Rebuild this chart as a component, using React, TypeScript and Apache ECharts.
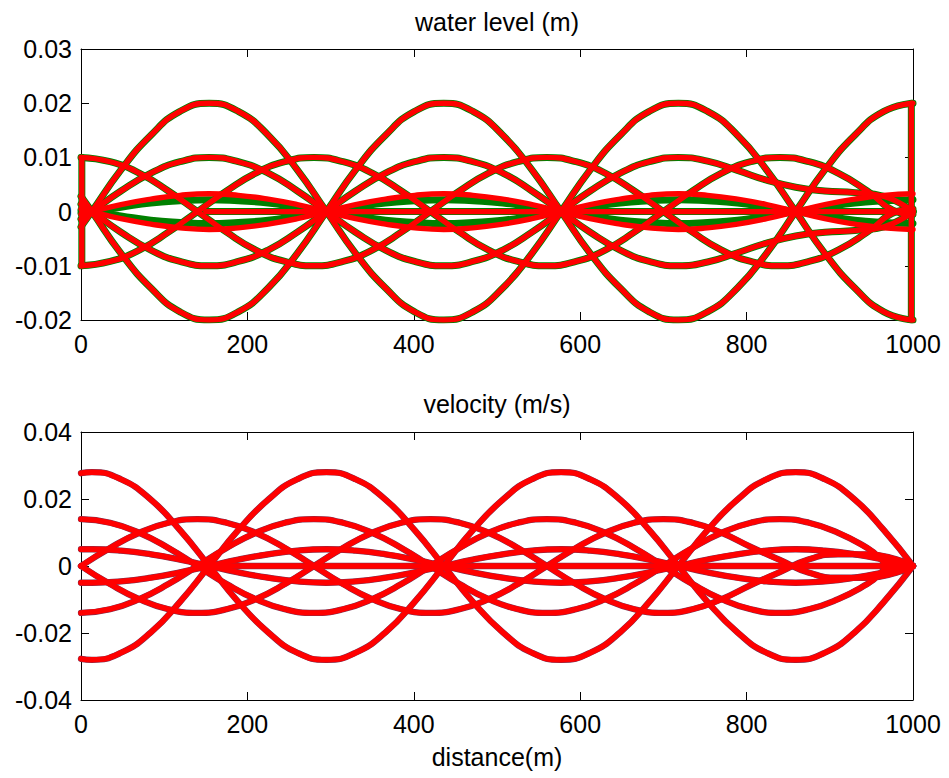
import React, { useEffect, useRef } from "react";
import * as echarts from "echarts";

// ---------- x grids (m) ----------
const X_S = [0, 13, 48, 84, 119, 154, 189, 225, 260, 295, 330, 366, 401, 436, 471, 507, 542, 577, 612, 648, 683, 718, 753, 789, 824, 859, 894, 930, 965, 1000];
const X_T = [0, 35, 70, 105, 140, 175, 210, 245, 280, 315, 350, 385, 420, 455, 490, 525, 560, 595, 630, 665, 700, 735, 770, 805, 840, 875, 910, 945, 980, 1000];
const X_ZERO = [150, 1000];

// ---------- water level (m) ----------
const WL_BIG = [0.0028, 0, -0.0077, -0.0141, -0.0185, -0.02, -0.0185, -0.0141, -0.0077, 0, 0.0077, 0.0141, 0.0185, 0.02, 0.0185, 0.0141, 0.0077, 0, -0.0077, -0.0141, -0.0185, -0.02, -0.0185, -0.0141, -0.0077, 0, 0.0077, 0.0141, 0.0185, 0.02];
const WL_HALF_S = [0.0014, 0, -0.0038, -0.0071, -0.0092, -0.01, -0.0092, -0.0071, -0.0038, 0, 0.0038, 0.0071, 0.0092, 0.01, 0.0092, 0.0071, 0.0038, 0, -0.0038, -0.0071, -0.0092, -0.01, -0.0093, -0.0076, -0.0058, -0.0045, -0.0038, -0.0035, -0.0028, 0];
const WL_HALF_T = [0.01, 0.0092, 0.0071, 0.0038, 0, -0.0038, -0.0071, -0.0092, -0.01, -0.0092, -0.0071, -0.0038, 0, 0.0038, 0.0071, 0.0092, 0.01, 0.0092, 0.0071, 0.0038, 0, -0.0038, -0.0071, -0.0092, -0.01, -0.0092, -0.0071, -0.0038, 0, 0.0005];
const WL_SMALL_RED = [0.0005, 0, -0.0013, -0.0023, -0.003, -0.0033, -0.003, -0.0023, -0.0013, 0, 0.0013, 0.0023, 0.003, 0.0033, 0.003, 0.0023, 0.0013, 0, -0.0013, -0.0023, -0.003, -0.0033, -0.003, -0.0023, -0.0013, 0, 0.0013, 0.0023, 0.003, 0.0033];
const WL_SMALL_GREEN = [0.0003, 0, -0.0008, -0.0016, -0.002, -0.0022, -0.002, -0.0016, -0.0008, 0, 0.0008, 0.0016, 0.002, 0.0022, 0.002, 0.0016, 0.0008, 0, -0.0008, -0.0016, -0.002, -0.0022, -0.002, -0.0016, -0.0008, 0, 0.0008, 0.0016, 0.002, 0.0022];
const WL_ZERO = [0, 0];
const WL_EDGE_LEFT_X = [1, 1];
const WL_EDGE_LEFT_Y = [0.01, -0.01];
const WL_EDGE_RIGHT_X = [998, 998];
const WL_EDGE_RIGHT_Y = [0.02, -0.02];

// ---------- velocity (m/s) ----------
const V_BIG = [-0.0277, -0.028, -0.0259, -0.0198, -0.0107, 0, 0.0107, 0.0198, 0.0259, 0.028, 0.0259, 0.0198, 0.0107, 0, -0.0107, -0.0198, -0.0259, -0.028, -0.0259, -0.0198, -0.0107, 0, 0.0107, 0.0198, 0.0259, 0.028, 0.0259, 0.0198, 0.0107, 0];
const V_SMALL = [-0.005, -0.005, -0.0046, -0.0035, -0.0019, 0, 0.0019, 0.0035, 0.0046, 0.005, 0.0046, 0.0035, 0.0019, 0, -0.0019, -0.0035, -0.0046, -0.005, -0.0046, -0.0035, -0.0019, 0, 0.0019, 0.0035, 0.0046, 0.005, 0.0046, 0.0035, 0.0019, 0];
const V_HALF_COS = [0.014, 0.0129, 0.0099, 0.0054, 0, -0.0054, -0.0099, -0.0129, -0.014, -0.0129, -0.0099, -0.0054, 0, 0.0054, 0.0099, 0.0129, 0.014, 0.0129, 0.0099, 0.0054, 0, -0.0054, -0.0099, -0.0129, -0.014, -0.0129, -0.0099, -0.0054, 0, 0];
const V_HALF_SIN = [0, 0.0054, 0.0099, 0.0129, 0.014, 0.0129, 0.0099, 0.0054, 0, -0.0054, -0.0099, -0.0129, -0.014, -0.0129, -0.0099, -0.0054, 0, 0.0054, 0.0099, 0.0129, 0.014, 0.0129, 0.0099, 0.0057, 0.0018, -0.002, -0.0035, -0.0035, -0.002, 0];
const V_ZERO = [0, 0];

// ---------- axes ----------
const X_MIN = 0, X_MAX = 1000, X_STEP = 200;
const WL_MIN = -0.02, WL_MAX = 0.03, WL_STEP = 0.01;
const V_MIN = -0.04, V_MAX = 0.04, V_STEP = 0.02;
const TITLE_TOP = "water level (m)";
const TITLE_BOTTOM = "velocity (m/s)";
const X_NAME = "distance(m)";

const RED = "#ff0000";
const GREEN = "#008000";
const EDGE = "#7a3050";
const FONT = "'Liberation Sans', Arial, Helvetica, sans-serif";
const FS = 25;

const neg = (a: number[]) => a.map((v) => (v === 0 ? 0 : -v));

function line(xs: number[], ys: number[], color: string, width: number, g: number, z: number, smooth = true) {
  return {
    type: "line",
    data: xs.map((x, i) => [x, ys[i]]),
    xAxisIndex: g === 0 ? 0 : 2,
    yAxisIndex: g === 0 ? 0 : 2,
    smooth,
    symbol: "none",
    showSymbol: false,
    silent: true,
    z,
    lineStyle: { color, width, cap: "round", join: "round" },
  };
}

const fmtY = (v: number) => {
  const r = Math.round(v * 1000) / 1000;
  if (r === 0) return "0";
  return r.toFixed(2);
};
const fmtX = (v: number) => String(Math.round(v));

export default function App() {
  const ref = useRef<HTMLDivElement>(null);
  useEffect(() => {
    if (!ref.current) return;
    const chart = echarts.init(ref.current, undefined, { renderer: "svg" });

    const tick = { show: true, inside: true, length: 8, lineStyle: { color: "#000" } };
    const axLine = { show: true, onZero: false, lineStyle: { color: "#000", width: 1 } };
    const mainX = (grid: number) => ({
      type: "value", gridIndex: grid, min: X_MIN, max: X_MAX, interval: X_STEP, position: "bottom",
      axisLine: axLine, axisTick: tick,
      axisLabel: { show: true, fontSize: FS, color: "#000", fontFamily: FONT, margin: 11, formatter: fmtX },
      splitLine: { show: false },
    });
    const topX = (grid: number) => ({
      type: "value", gridIndex: grid, min: X_MIN, max: X_MAX, interval: X_STEP, position: "top",
      axisLine: axLine, axisTick: tick, axisLabel: { show: false }, splitLine: { show: false },
    });
    const leftY = (grid: number, min: number, max: number, step: number) => ({
      type: "value", gridIndex: grid, min, max, interval: step, position: "left",
      axisLine: axLine, axisTick: tick,
      axisLabel: { show: true, fontSize: FS, color: "#000", fontFamily: FONT, margin: 9, formatter: fmtY },
      splitLine: { show: false },
    });
    const rightY = (grid: number, min: number, max: number, step: number) => ({
      type: "value", gridIndex: grid, min, max, interval: step, position: "right",
      axisLine: axLine, axisTick: tick, axisLabel: { show: false }, splitLine: { show: false },
    });

    const series: any[] = [];
    const gw = 7, rw = 5.4;
    const wlCurves: [number[], number[], number[]][] = [
      [X_S, WL_BIG, WL_BIG],
      [X_S, neg(WL_BIG), neg(WL_BIG)],
      [X_S, WL_HALF_S, WL_HALF_S],
      [X_S, neg(WL_HALF_S), neg(WL_HALF_S)],
      [X_T, WL_HALF_T, WL_HALF_T],
      [X_T, neg(WL_HALF_T), neg(WL_HALF_T)],
      [X_S, WL_SMALL_RED, WL_SMALL_GREEN],
      [X_S, neg(WL_SMALL_RED), neg(WL_SMALL_GREEN)],
    ];
    wlCurves.forEach(([xs, , g]) => series.push(line(xs, g, GREEN, gw, 0, 2)));
    series.push(line(X_ZERO, WL_ZERO, GREEN, gw, 0, 2, false));
    series.push(line(WL_EDGE_LEFT_X, WL_EDGE_LEFT_Y, GREEN, gw, 0, 2, false));
    series.push(line(WL_EDGE_RIGHT_X, WL_EDGE_RIGHT_Y, GREEN, gw, 0, 2, false));
    wlCurves.forEach(([xs, r]) => series.push(line(xs, r, RED, rw, 0, 3)));
    series.push(line(X_ZERO, WL_ZERO, RED, rw, 0, 3, false));
    series.push(line(WL_EDGE_LEFT_X, WL_EDGE_LEFT_Y, RED, rw, 0, 3, false));
    series.push(line(WL_EDGE_RIGHT_X, WL_EDGE_RIGHT_Y, RED, rw, 0, 3, false));

    const vCurves: [number[], number[]][] = [
      [X_S, V_BIG],
      [X_S, neg(V_BIG)],
      [X_S, V_SMALL],
      [X_S, neg(V_SMALL)],
      [X_T, V_HALF_COS],
      [X_T, neg(V_HALF_COS)],
      [X_T, V_HALF_SIN],
      [X_T, neg(V_HALF_SIN)],
    ];
    vCurves.forEach(([xs, ys]) => series.push(line(xs, ys, EDGE, 6.3, 1, 2)));
    series.push(line(X_ZERO, V_ZERO, EDGE, 6.3, 1, 2, false));
    vCurves.forEach(([xs, ys]) => series.push(line(xs, ys, RED, 5.4, 1, 3)));
    series.push(line(X_ZERO, V_ZERO, RED, 5.4, 1, 3, false));

    chart.setOption({
      animation: false,
      backgroundColor: "#ffffff",
      textStyle: { fontFamily: FONT },
      grid: [
        { left: 81, top: 49, width: 832, height: 271, containLabel: false },
        { left: 81, top: 432, width: 832, height: 268, containLabel: false },
      ],
      xAxis: [
        mainX(0),
        topX(0),
        { ...mainX(1), name: X_NAME, nameLocation: "middle", nameGap: 44, nameTextStyle: { fontSize: FS, color: "#000", fontFamily: FONT } },
        topX(1),
      ],
      yAxis: [
        leftY(0, WL_MIN, WL_MAX, WL_STEP),
        rightY(0, WL_MIN, WL_MAX, WL_STEP),
        leftY(1, V_MIN, V_MAX, V_STEP),
        rightY(1, V_MIN, V_MAX, V_STEP),
      ],
      graphic: [
        { type: "text", x: 497, y: 22, style: { text: TITLE_TOP, fontSize: FS, fill: "#000", fontFamily: FONT, textAlign: "center", textVerticalAlign: "middle" } },
        { type: "text", x: 497, y: 404, style: { text: TITLE_BOTTOM, fontSize: FS, fill: "#000", fontFamily: FONT, textAlign: "center", textVerticalAlign: "middle" } },
      ],
      series,
    });
    return () => chart.dispose();
  }, []);
  return <div ref={ref} style={{ width: 949, height: 778, position: "absolute", left: 0, top: 0 }} />;
}
